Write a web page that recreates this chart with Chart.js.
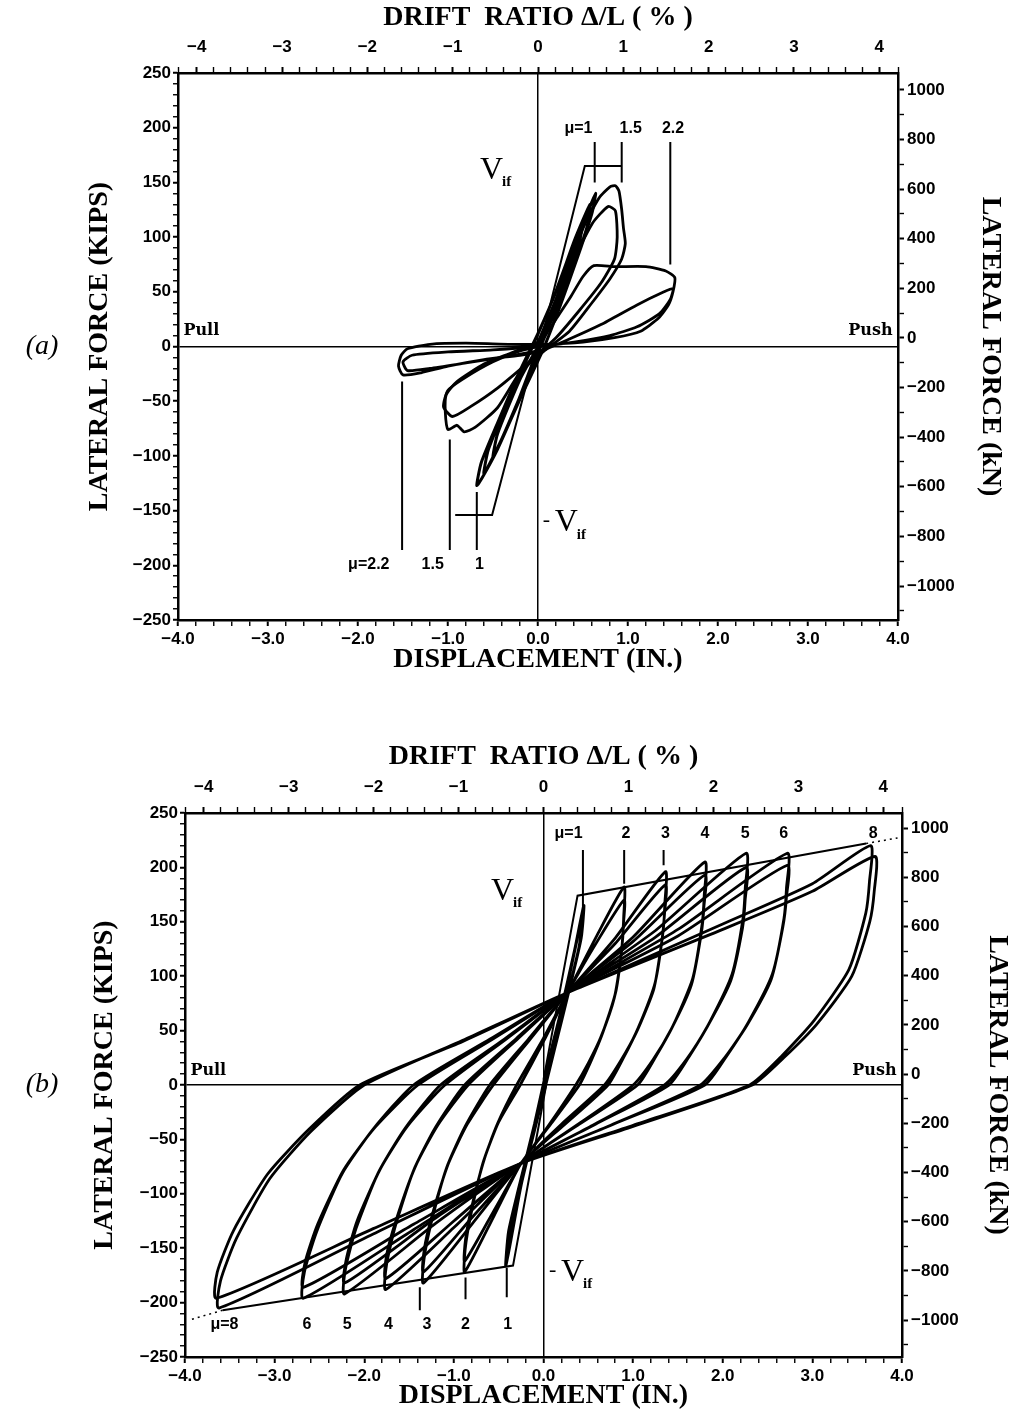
<!DOCTYPE html>
<html>
<head>
<meta charset="utf-8">
<script src="https://cdn.jsdelivr.net/npm/chart.js@4.4.1/dist/chart.umd.min.js"></script>
<style>
  body { margin: 0; background: #fff; width: 1019px; height: 1413px; overflow: hidden; position: relative; }
  .panel { position: absolute; left: 0; width: 1019px; }
  canvas { display: block; }
</style>
</head>
<body>
<div class="panel" style="top:0;height:700px"><canvas id="chartA" width="1019" height="700"></canvas></div>
<div class="panel" style="top:700px;height:713px"><canvas id="chartB" width="1019" height="713"></canvas></div>
<script>
// ---- data: displacement (in.), lateral force (kips) ----

// (a) brittle specimen
const loopA1 = [[0,0],[0.2,42],[0.4,88],[0.55,122],[0.64,140],[0.6,122],[0.45,84],[0.25,38],[0.05,-4],[-0.2,-48],[-0.45,-94],[-0.62,-120],[-0.68,-127],[-0.63,-106],[-0.45,-70],[-0.2,-22],[0,12],[0.2,50],[0.4,96],[0.58,130],[0.54,108],[0.35,64],[0.1,14],[-0.15,-36],[-0.4,-84],[-0.6,-116],[-0.55,-94],[-0.3,-44],[-0.05,2],[0.15,40],[0.35,84],[0.5,115],[0.45,92],[0.25,48],[0,-2],[-0.25,-56],[-0.5,-102],[-0.45,-80],[-0.2,-30],[0,0]];
const loopA15 = [[0,0],[0.25,52],[0.5,108],[0.68,136],[0.8,146],[0.86,147],[0.9,142],[0.93,125],[0.95,108],[0.97,94],[0.93,80],[0.8,62],[0.6,40],[0.35,14],[0.1,-2],[-0.2,-24],[-0.45,-56],[-0.7,-74],[-0.82,-78],[-0.9,-72],[-1.0,-76],[-1.03,-60],[-1.02,-44],[-0.9,-32],[-0.6,-16],[-0.3,-6],[0,4]];
const loopA15b = [[0,4],[0.3,62],[0.6,112],[0.78,128],[0.86,124],[0.88,100],[0.85,80],[0.7,58],[0.45,32],[0.2,8],[-0.1,-14],[-0.45,-38],[-0.75,-55],[-0.95,-64],[-1.05,-55],[-1.0,-40],[-0.8,-28],[-0.5,-14],[-0.2,-4],[0,0]];
const loopA22 = [[0,0],[0.2,25],[0.36,45],[0.5,64],[0.62,74],[0.85,73],[1.2,73],[1.42,69],[1.52,63],[1.5,50],[1.45,38],[1.34,26],[1.14,14],[0.85,8],[0.5,4],[0.1,2],[-0.3,2],[-0.8,3],[-1.2,2],[-1.45,-2],[-1.52,-8],[-1.55,-18],[-1.5,-26],[-1.3,-24],[-1.0,-18],[-0.6,-12],[-0.2,-8],[0,-5],[0.3,5],[0.7,20],[1.1,38],[1.4,50],[1.5,53],[1.47,43],[1.35,30],[1.1,18],[0.8,10],[0.4,4],[0,0],[-0.5,-3],[-1.0,-5],[-1.4,-8],[-1.5,-14],[-1.45,-22],[-1.2,-20],[-0.8,-15],[-0.4,-10],[0,-4]];
const idealA = [[[0.05,10],[0.52,165],[0.93,165]], [[-0.05,-10],[-0.51,-154],[-0.92,-154]]];
const muTicksA = [[[0.63,187],[0.63,150]], [[0.93,187],[0.93,150]], [[1.47,187],[1.47,75]],
                  [[-1.51,-32],[-1.51,-186]], [[-0.98,-85],[-0.98,-186]], [[-0.68,-133],[-0.68,-186]]];
const labelsA = [['μ=1',0.45,199,'mu'],['1.5',1.03,199,'mu'],['2.2',1.5,199,'mu'],
                 ['μ=2.2',-1.88,-199,'mu'],['1.5',-1.17,-199,'mu'],['1',-0.65,-199,'mu'],
                 ['V',-0.45,161,'vif'],['V',0.38,-161,'nvif'],
                 ['Pull',-3.94,14,'left'],['Push',3.94,14,'right']];
const knRangeA = [-1137, 1068];

// (b) ductile specimen, two cycles per ductility level
const loopB1 = [[0,0],[0.2,70],[0.35,125],[0.45,165],[0.42,135],[0.3,92],[0.12,32],[-0.05,-25],[-0.25,-92],[-0.42,-166],[-0.39,-135],[-0.28,-96],[-0.1,-36],[0.05,20],[0.25,86],[0.44,158],[0.4,128],[0.25,76],[0.05,10],[-0.2,-70],[-0.4,-158],[-0.36,-125],[-0.2,-70],[0,-5]];
const loopB2 = [[0.27,85],[0.6,138],[0.9,182],[0.895,155],[0.88,131],[0.81,87],[0.665,49],[0.53,22],[0.4,0],[0.08,-36],[-0.25,-72],[-0.55,-120],[-0.88,-172],[-0.874,-151],[-0.81,-119],[-0.677,-72],[-0.515,-36],[-0.3,0],[0,43],[0.27,85],
                [0.6,132],[0.9,170],[0.89,146],[0.87,122],[0.79,80],[0.64,44],[0.5,20],[0.36,0],[0.05,-38],[-0.25,-72],[-0.55,-115],[-0.88,-162],[-0.87,-142],[-0.8,-112],[-0.66,-68],[-0.5,-34],[-0.26,0],[0,40],[0.27,85]];
const loopB3 = [[0.27,85],[0.8,135],[1.36,196],[1.354,167],[1.334,141],[1.245,94],[1.059,53],[0.886,24],[0.72,0],[0.24,-36],[-0.25,-72],[-0.8,-128],[-1.34,-182],[-1.333,-160],[-1.251,-126],[-1.081,-76],[-0.874,-38],[-0.6,0],[-0.17,42],[0.27,85],
                [0.8,130],[1.36,184],[1.35,157],[1.32,132],[1.23,88],[1.04,49],[0.86,22],[0.68,0],[0.2,-36],[-0.25,-72],[-0.8,-122],[-1.34,-172],[-1.33,-151],[-1.24,-119],[-1.06,-72],[-0.85,-36],[-0.56,0],[-0.15,42],[0.27,85]];
const loopB4 = [[0.27,85],[1.0,136],[1.8,205],[1.793,174],[1.77,148],[1.665,98],[1.448,55],[1.245,25],[1.05,0],[0.4,-36],[-0.25,-72],[-1.0,-131],[-1.76,-188],[-1.751,-165],[-1.654,-130],[-1.452,-79],[-1.206,-39],[-0.88,0],[-0.3,43],[0.27,85],
                [1.0,132],[1.8,193],[1.79,164],[1.76,139],[1.65,92],[1.43,52],[1.22,23],[1.0,0],[0.37,-37],[-0.25,-72],[-1.0,-125],[-1.76,-178],[-1.75,-156],[-1.64,-123],[-1.43,-75],[-1.18,-37],[-0.84,0],[-0.28,43],[0.27,85]];
const loopB5 = [[0.27,85],[1.25,142],[2.26,213],[2.251,181],[2.226,153],[2.105,102],[1.856,58],[1.624,26],[1.4,0],[0.58,-36],[-0.25,-72],[-1.2,-127],[-2.22,-192],[-2.209,-169],[-2.092,-132],[-1.846,-81],[-1.546,-40],[-1.15,0],[-0.44,42],[0.27,85],
                [1.25,136],[2.26,200],[2.25,170],[2.22,144],[2.09,96],[1.83,54],[1.6,24],[1.35,0],[0.55,-37],[-0.25,-72],[-1.2,-122],[-2.22,-182],[-2.2,-160],[-2.08,-125],[-1.82,-77],[-1.52,-38],[-1.1,0],[-0.42,42],[0.27,85]];
const loopB6 = [[0.27,85],[1.5,143],[2.72,213],[2.711,181],[2.683,153],[2.554,102],[2.288,58],[2.039,26],[1.8,0],[0.78,-36],[-0.25,-72],[-1.45,-133],[-2.68,-196],[-2.668,-172],[-2.532,-135],[-2.25,-82],[-1.905,-41],[-1.45,0],[-0.6,42],[0.27,85],
                [1.5,137],[2.72,202],[2.71,172],[2.67,145],[2.54,97],[2.27,55],[2.02,25],[1.75,0],[0.75,-37],[-0.25,-72],[-1.45,-128],[-2.68,-186],[-2.66,-163],[-2.52,-128],[-2.23,-78],[-1.88,-39],[-1.4,0],[-0.57,42],[0.27,85]];
const loopB8 = [[0.27,85],[2.0,148],[3.0,185],[3.65,220],[3.637,187],[3.596,158],[3.407,106],[3.016,59],[2.651,26],[2.3,0],[1.0,-37],[-0.25,-72],[-1.9,-137],[-3.62,-205],[-3.604,-180],[-3.426,-141],[-3.053,-86],[-2.599,-43],[-2.0,0],[-0.9,41],[0.27,85],
                [2.0,143],[3.0,178],[3.7,210],[3.69,178],[3.64,150],[3.44,100],[3.05,56],[2.68,25],[2.33,0],[1.0,-38],[-0.25,-72],[-1.9,-132],[-3.65,-196],[-3.64,-172],[-3.46,-134],[-3.08,-82],[-2.62,-41],[-2.05,0],[-0.9,40],[0.27,85]];
const idealB = [[[0.0,5],[0.38,174],[3.6,222]], [[0.03,0],[-0.34,-166],[-3.58,-207]]];
const idealDashB = [[[3.6,222],[3.95,227]], [[-3.58,-207],[-3.95,-216]]];
const muTicksB = [[[0.44,216],[0.44,150]], [[0.9,216],[0.9,185]], [[1.34,216],[1.34,202]],
                  [[-0.41,-168],[-0.41,-195]], [[-0.87,-177],[-0.87,-197]], [[-1.38,-186],[-1.38,-207]]];
const labelsB = [['μ=1',0.28,231,'mu'],['2',0.92,231,'mu'],['3',1.36,231,'mu'],['4',1.8,231,'mu'],
                 ['5',2.25,231,'mu'],['6',2.68,231,'mu'],['8',3.68,231,'mu'],
                 ['μ=8',-3.56,-220,'mu'],['6',-2.64,-220,'mu'],['5',-2.19,-220,'mu'],['4',-1.73,-220,'mu'],
                 ['3',-1.3,-220,'mu'],['2',-0.87,-220,'mu'],['1',-0.4,-220,'mu'],
                 ['V',-0.39,178,'vif'],['V',0.39,-172,'nvif'],
                 ['Pull',-3.94,13,'left'],['Push',3.94,13,'right']];
const knRangeB = [-1150, 1061];

// right-hand axis ticks (kN); labelled every 200
const knTicks = [-1100,-1000,-900,-800,-700,-600,-500,-400,-300,-200,-100,0,100,200,300,400,500,600,700,800,900,1000,1100];
const DRIFT_MAX = 4.22;   // drift % at 4.0 in.

// ---- helpers ----
const minus = s => s.replace('-', '\u2212');
const isMajor = (v, step) => Math.abs(v / step - Math.round(v / step)) < 1e-6;

function loop(points, width) {
  return {
    data: points.map(([x, y]) => ({x, y})),
    borderColor: '#000', borderWidth: width || 2.8,
    pointRadius: 0, tension: 0.2, fill: false
  };
}
function segment(points, dash) {
  return {
    data: points.map(([x, y]) => ({x, y})),
    borderColor: '#000', borderWidth: dash ? 1.5 : 2,
    borderDash: dash ? [2, 4] : [], pointRadius: 0, tension: 0, fill: false
  };
}

const markLabels = {
  id: 'markLabels',
  afterDatasetsDraw(chart, args, opts) {
    const {ctx, scales: {x, y}} = chart;
    ctx.save();
    ctx.fillStyle = '#000';
    ctx.textBaseline = 'middle';
    for (const [text, dx, fy, kind] of opts.items) {
      const px = x.getPixelForValue(dx), py = y.getPixelForValue(fy);
      if (kind === 'mu') {
        ctx.font = 'bold 16px "Liberation Sans"';
        ctx.textAlign = 'center';
        ctx.fillText(text, px, py);
      } else if (kind === 'left' || kind === 'right') {
        ctx.font = 'bold 16px "DejaVu Serif"';
        ctx.textAlign = kind;
        ctx.fillText(text, px, py);
      } else {
        ctx.font = '32px "Liberation Serif"';
        ctx.textAlign = 'left';
        const w = ctx.measureText('V').width;
        const x0 = px - (w + 12) / 2;
        if (kind === 'nvif') {
          ctx.font = '22px "Liberation Serif"';
          ctx.fillText('-', x0 - 12, py - 2);
          ctx.font = '32px "Liberation Serif"';
        }
        ctx.fillText('V', x0, py);
        ctx.font = 'bold 15px "Liberation Serif"';
        ctx.fillText('if', x0 + w - 1, py + 12);
      }
    }
    ctx.font = 'italic 28px "Liberation Serif"';
    ctx.textAlign = 'center';
    ctx.fillText(opts.tag, opts.tagX, y.getPixelForValue(0));
    ctx.restore();
  }
};

function scales(g) {
  const tickFont = {family: 'Liberation Sans', weight: 'bold', size: 17};
  const titleFont = {family: 'Liberation Serif', weight: 'bold', size: 28};
  const zeroGrid = c => (c.tick && Math.abs(c.tick.value) < 1e-9) ? '#000' : 'rgba(0,0,0,0)';
  const tickW = step => c => (c.tick && isMajor(c.tick.value, step)) ? 2 : 1.4;
  const border = {display: true, width: 2.5, color: '#000'};
  return {
    x: {
      type: 'linear', position: 'bottom', min: -4, max: 4, border,
      grid: {drawOnChartArea: true, color: zeroGrid, lineWidth: 1.5, tickLength: 6, tickColor: '#000', tickWidth: tickW(1)},
      ticks: {stepSize: 0.2, autoSkip: false, maxRotation: 0, minRotation: 0, padding: 3, color: '#000', font: tickFont,
              callback: v => isMajor(v, 1) ? minus(v.toFixed(1)) : ''},
      title: {display: true, text: 'DISPLACEMENT (IN.)', color: '#000', font: titleFont, padding: {top: 0, bottom: g.bottomPad}},
      afterFit: s => { s.height = g.bottomH; }
    },
    x2: {
      // drift ratio: same frame, scaled by the column height
      type: 'linear', position: 'top', min: -DRIFT_MAX, max: DRIFT_MAX, border,
      grid: {drawOnChartArea: false, tickLength: 6, tickColor: '#000', tickWidth: tickW(1)},
      ticks: {stepSize: 0.2, autoSkip: false, maxRotation: 0, minRotation: 0, padding: 9, color: '#000', font: tickFont,
              callback: v => isMajor(v, 1) ? minus(String(Math.round(v))) : ''},
      title: {display: true, text: 'DRIFT  RATIO \u0394/L ( % )', color: '#000', font: titleFont, padding: {top: g.topPad, bottom: 0}},
      afterFit: s => { s.height = g.topH; }
    },
    y: {
      type: 'linear', position: 'left', min: -250, max: 250, border,
      grid: {drawOnChartArea: true, color: zeroGrid, lineWidth: 1.5, tickLength: 5, tickColor: '#000', tickWidth: tickW(50)},
      ticks: {stepSize: 10, autoSkip: false, padding: 2, color: '#000', font: tickFont,
              callback: v => isMajor(v, 50) ? minus(String(v)) : ''},
      title: {display: true, text: 'LATERAL FORCE (KIPS)', color: '#000', font: titleFont, padding: {top: g.leftPad, bottom: 0}},
      afterFit: s => { s.width = g.leftW; }
    },
    y2: {
      type: 'linear', position: 'right', min: g.kn[0], max: g.kn[1], bounds: 'data', border,
      grid: {drawOnChartArea: false, tickLength: 6, tickColor: '#000', tickWidth: tickW(200)},
      ticks: {autoSkip: false, padding: 3, color: '#000', font: tickFont,
              callback: v => isMajor(v, 200) ? minus(String(Math.round(v))) : ''},
      afterBuildTicks: s => { s.ticks = knTicks.filter(v => v >= g.kn[0] && v <= g.kn[1]).map(value => ({value})); },
      title: {display: true, text: 'LATERAL FORCE (kN)', color: '#000', font: titleFont, padding: {top: g.rightPad, bottom: 0}},
      afterFit: s => { s.width = g.rightW; }
    }
  };
}

function makeChart(id, datasets, labels, tag, g) {
  return new Chart(document.getElementById(id), {
    type: 'line',
    data: {datasets},
    options: {
      responsive: false,
      animation: false,
      layout: {padding: 0},
      scales: scales(g),
      plugins: {
        legend: {display: false},
        tooltip: {enabled: false},
        markLabels: {items: labels, tag, tagX: 42}
      }
    },
    plugins: [markLabels]
  });
}

makeChart('chartA',
  [loop(loopA1, 3), loop(loopA15), loop(loopA15b), loop(loopA22),
   ...idealA.map(p => segment(p)), ...muTicksA.map(p => segment(p))],
  labelsA, '(a)',
  {leftW: 178, rightW: 121, topH: 73, bottomH: 80, bottomPad: 23, topPad: 1, leftPad: 83, rightPad: 12, kn: knRangeA});

makeChart('chartB',
  [loop(loopB1, 3), loop(loopB2), loop(loopB3), loop(loopB4), loop(loopB5), loop(loopB6), loop(loopB8),
   ...idealB.map(p => segment(p)), ...idealDashB.map(p => segment(p, true)), ...muTicksB.map(p => segment(p))],
  labelsB, '(b)',
  {leftW: 185, rightW: 117, topH: 113, bottomH: 56, bottomPad: 0, topPad: 40, leftPad: 88, rightPad: 5, kn: knRangeB});
</script>
</body>
</html>
